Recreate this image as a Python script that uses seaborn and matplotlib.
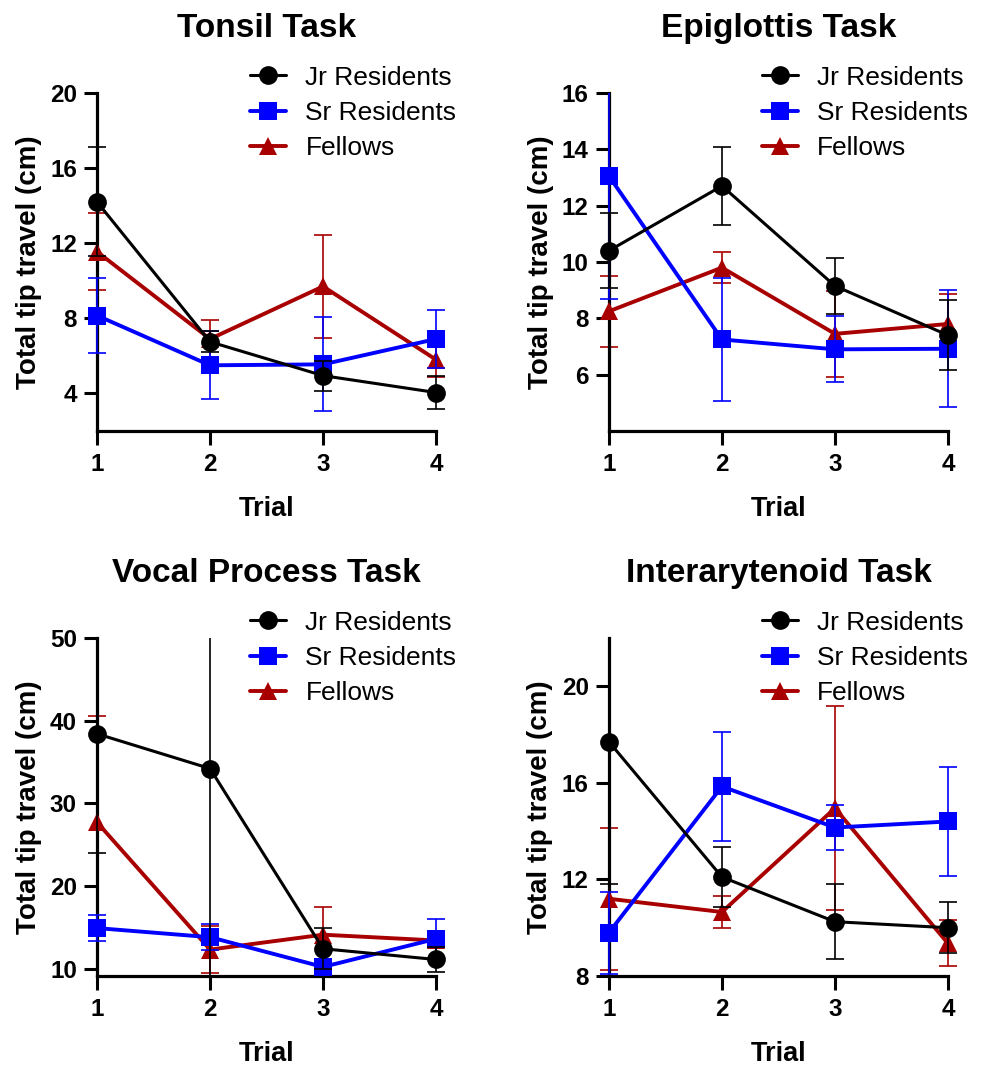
import numpy as np
import pandas as pd
import seaborn as sns
import matplotlib.pyplot as plt
from matplotlib.patches import Rectangle

sns.set_theme(style="ticks")
plt.rcParams['font.family'] = ['Liberation Sans', 'DejaVu Sans']
plt.rcParams.update({"text.color": "black", "axes.labelcolor": "black",
                     "xtick.color": "black", "ytick.color": "black"})

trials = [1, 2, 3, 4]
groups = ["Jr Residents", "Sr Residents", "Fellows"]
colors = {"Jr Residents": "black", "Sr Residents": "#0000FF", "Fellows": "#A80000"}
markers = {"Jr Residents": "o", "Sr Residents": "s", "Fellows": "^"}

tasks = ["Tonsil Task", "Epiglottis Task", "Vocal Process Task", "Interarytenoid Task"]

# mean total tip travel (cm) per trial, with SEM
tonsil_mean = {"Jr Residents": [14.2, 6.75, 4.95, 4.05],
               "Sr Residents": [8.15, 5.5, 5.55, 6.9],
               "Fellows": [11.55, 6.9, 9.7, 5.8]}
tonsil_sem = {"Jr Residents": [2.9, 0.55, 0.8, 0.9],
              "Sr Residents": [2.0, 1.8, 2.5, 1.55],
              "Fellows": [2.05, 1.0, 2.75, 0.9]}

epiglottis_mean = {"Jr Residents": [10.4, 12.7, 9.15, 7.4],
                   "Sr Residents": [13.05, 7.25, 6.9, 6.92],
                   "Fellows": [8.25, 9.8, 7.45, 7.8]}
epiglottis_sem = {"Jr Residents": [1.33, 1.38, 1.0, 1.25],
                  "Sr Residents": [4.35, 2.17, 1.17, 2.08],
                  "Fellows": [1.25, 0.55, 1.52, 1.05]}

vocal_mean = {"Jr Residents": [38.4, 34.2, 12.4, 11.1],
              "Sr Residents": [14.9, 13.8, 10.2, 13.6],
              "Fellows": [27.7, 12.3, 14.1, 13.4]}
vocal_sem = {"Jr Residents": [14.4, 30.0, 2.5, 1.5],
             "Sr Residents": [1.6, 1.6, 0.5, 2.4],
             "Fellows": [12.8, 2.8, 3.4, 0.6]}

inter_mean = {"Jr Residents": [17.7, 12.1, 10.25, 10.0],
              "Sr Residents": [9.8, 15.85, 14.15, 14.4],
              "Fellows": [11.2, 10.65, 14.95, 9.35]}
inter_sem = {"Jr Residents": [5.9, 1.25, 1.55, 1.05],
             "Sr Residents": [1.7, 2.27, 0.95, 2.25],
             "Fellows": [2.95, 0.68, 4.22, 0.95]}

means = [tonsil_mean, epiglottis_mean, vocal_mean, inter_mean]
sems = [tonsil_sem, epiglottis_sem, vocal_sem, inter_sem]
ylims = [(2, 20), (4, 16), (9.1, 50), (8, 22)]
yticks = [[4, 8, 12, 16, 20], [6, 8, 10, 12, 14, 16], [10, 20, 30, 40, 50], [8, 12, 16, 20]]

fig, axes = plt.subplots(2, 2, figsize=(9.89, 10.66), dpi=100)
fig.subplots_adjust(left=0.0981, right=0.9585, top=0.9128, bottom=0.0844,
                    wspace=0.51, hspace=0.612)

for idx, ax in enumerate(axes.flat):
    # clip error bars vertically to the axes but let caps poke past the y spine
    clip = Rectangle((-0.1, 0), 1.2, 1, transform=ax.transAxes, facecolor='none')
    # Fellows first so Jr Residents sits on top
    for z, g in enumerate(reversed(groups)):
        df = pd.DataFrame({"Trial": trials, "Travel": means[idx][g]})
        lw = 2.2 if g == "Jr Residents" else 2.8
        sns.lineplot(data=df, x="Trial", y="Travel", color=colors[g], marker=markers[g],
                     markersize=13.5, markeredgewidth=0, linewidth=lw, ax=ax,
                     zorder=3 + z, clip_on=False, label=g)
        eb = ax.errorbar(trials, means[idx][g], yerr=sems[idx][g], fmt='none',
                         ecolor=colors[g], elinewidth=1.2, capsize=6.5, capthick=1.2,
                         zorder=2 + z)
        for art in eb.lines[1] + eb.lines[2]:
            art.set_clip_path(clip)

    h, l = ax.get_legend_handles_labels()
    order = [l.index(g) for g in groups]
    ax.legend([h[i] for i in order], [l[i] for i in order], loc="upper left",
              bbox_to_anchor=(0.42, 1.112), frameon=False, fontsize=19,
              handlelength=1.35, handletextpad=0.75, labelspacing=0.43, borderaxespad=0)

    ax.set_xlim(1, 4)
    ax.set_ylim(*ylims[idx])
    ax.set_xticks(trials)
    ax.set_yticks(yticks[idx])
    ax.set_title(tasks[idx], fontsize=24, fontweight="bold", pad=40)
    ax.set_xlabel("Trial", fontsize=19.5, fontweight="bold", labelpad=14)
    ax.set_ylabel("Total tip travel (cm)", fontsize=20, fontweight="bold", labelpad=6)
    ax.tick_params(axis="both", labelsize=17.5, width=2.2, length=9.5, pad=5, color="black")
    ax.tick_params(axis="x", length=10, pad=6)
    for lab in ax.get_xticklabels() + ax.get_yticklabels():
        lab.set_fontweight("bold")
    sns.despine(ax=ax)
    for s in ["left", "bottom"]:
        ax.spines[s].set_linewidth(2.3)
        ax.spines[s].set_color("black")

plt.savefig("out.png", dpi=100)
plt.close()
